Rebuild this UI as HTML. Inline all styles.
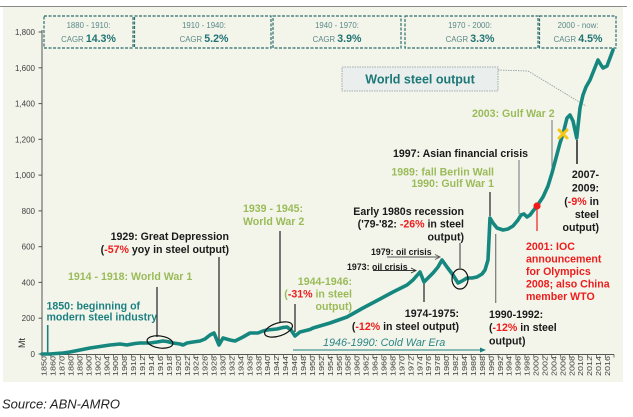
<!DOCTYPE html>
<html><head><meta charset="utf-8"><style>
html,body{margin:0;padding:0;background:#fff;}
svg{display:block;}
text{font-family:"Liberation Sans",Arial,sans-serif;}
.b{font-weight:bold;font-size:10.6px;}
.k{fill:#1a1a1a;}
.g{fill:#9bbb59;}
.r{fill:#ee1c1c;}
.t{fill:#1c8080;}
.yl{font-size:8px;fill:#404040;}
.xl{font-size:7px;fill:#404040;}
.cg{font-size:7.8px;fill:#5a8888;}
.cv{font-size:10.6px;font-weight:bold;fill:#1f7373;}
</style></head><body>
<svg width="633" height="417" viewBox="0 0 633 417" xmlns="http://www.w3.org/2000/svg">
<rect x="0" y="0" width="633" height="417" fill="#fff"/>
<rect x="3" y="7" width="620" height="375" fill="#f3f5eb"/>
<line x1="0" y1="6.5" x2="627" y2="6.5" stroke="#8a8a8a" stroke-width="1"/>

<!-- CAGR boxes -->
<g fill="none" stroke="#2d6e6e" stroke-width="1.2" stroke-dasharray="3,1.5">
<rect x="44" y="16" width="89" height="32"/>
<rect x="134.5" y="16" width="136.5" height="32"/>
<rect x="273" y="16" width="128" height="32"/>
<rect x="405" y="16" width="133" height="32"/>
<rect x="539.5" y="16" width="76.5" height="32"/>
</g>
<g text-anchor="middle">
<text class="cg" x="88.5" y="28">1880 - 1910:</text>
<text x="88.5" y="42"><tspan class="cg">CAGR </tspan><tspan class="cv">14.3%</tspan></text>
<text class="cg" x="204" y="28">1910 - 1940:</text>
<text x="204" y="42"><tspan class="cg">CAGR </tspan><tspan class="cv">5.2%</tspan></text>
<text class="cg" x="337" y="28">1940 - 1970:</text>
<text x="337" y="42"><tspan class="cg">CAGR </tspan><tspan class="cv">3.9%</tspan></text>
<text class="cg" x="470" y="28">1970 - 2000:</text>
<text x="470" y="42"><tspan class="cg">CAGR </tspan><tspan class="cv">3.3%</tspan></text>
<text class="cg" x="578" y="28">2000 - now:</text>
<text x="578" y="42"><tspan class="cg">CAGR </tspan><tspan class="cv">4.5%</tspan></text>
</g>

<!-- Axes -->
<line x1="42" y1="30" x2="42" y2="354.5" stroke="#555" stroke-width="1"/>
<line x1="42" y1="354.5" x2="614" y2="354.5" stroke="#555" stroke-width="1"/>
<g stroke="#555" stroke-width="1">
<line x1="38.5" y1="32" x2="42" y2="32"/>
<line x1="38.5" y1="67.8" x2="42" y2="67.8"/>
<line x1="38.5" y1="103.6" x2="42" y2="103.6"/>
<line x1="38.5" y1="139.3" x2="42" y2="139.3"/>
<line x1="38.5" y1="175.1" x2="42" y2="175.1"/>
<line x1="38.5" y1="210.9" x2="42" y2="210.9"/>
<line x1="38.5" y1="246.7" x2="42" y2="246.7"/>
<line x1="38.5" y1="282.4" x2="42" y2="282.4"/>
<line x1="38.5" y1="318.2" x2="42" y2="318.2"/>
<line x1="38.5" y1="354" x2="42" y2="354"/>
</g>
<g class="yl" text-anchor="end">
<text x="35" y="35">1,800</text>
<text x="35" y="70.8">1,600</text>
<text x="35" y="106.6">1,400</text>
<text x="35" y="142.3">1,200</text>
<text x="35" y="178.1">1,000</text>
<text x="35" y="213.9">800</text>
<text x="35" y="249.7">600</text>
<text x="35" y="285.4">400</text>
<text x="35" y="321.2">200</text>
<text x="35" y="357">0</text>
</g>
<text x="25" y="343" font-size="9" fill="#333" text-anchor="middle" transform="rotate(-90 25 343)">Mt</text>

<g id="xt" stroke="#555" stroke-width="0.8"></g>
<g id="xlab" class="xl"></g>

<!-- Annotation vertical lines -->
<g stroke-width="1.2">
<line x1="47.7" y1="325" x2="47.7" y2="353" stroke="#1c8080" stroke-width="1.6"/>
<line x1="157" y1="287" x2="157" y2="337" stroke="#222"/>
<line x1="219" y1="257" x2="219" y2="343" stroke="#222"/>
<line x1="280" y1="231" x2="280" y2="322" stroke="#222"/>
<line x1="295" y1="304" x2="295" y2="332" stroke="#222"/>
<line x1="424" y1="283" x2="424" y2="302" stroke="#222"/>
<line x1="460" y1="243" x2="460" y2="268" stroke="#555"/>
<line x1="490" y1="192" x2="490" y2="216" stroke="#222"/>
<line x1="495.7" y1="234" x2="495.7" y2="303" stroke="#777"/>
<line x1="519" y1="160" x2="519" y2="214" stroke="#888"/>
<line x1="537" y1="207" x2="537" y2="231" stroke="#ee1c1c"/>
<line x1="552" y1="120" x2="552" y2="167" stroke="#888"/>
<line x1="577" y1="140" x2="577" y2="164" stroke="#222" stroke-width="1.5"/>
</g>

<!-- Cold war arrow -->
<line x1="293" y1="350" x2="481" y2="350" stroke="#1c8080" stroke-width="1"/>
<polygon points="480,347.5 486,350 480,352.5" fill="#1c8080"/>

<!-- oil crisis arrows -->
<line x1="373" y1="270.5" x2="415" y2="270.5" stroke="#333" stroke-width="0.9"/>
<polyline points="411,268 416,270.5 411,273" fill="none" stroke="#333" stroke-width="0.9"/>
<line x1="387" y1="257" x2="439" y2="257" stroke="#555" stroke-width="0.9"/>
<polyline points="435,254.5 440,257 435,259.5" fill="none" stroke="#555" stroke-width="0.9"/>

<!-- World steel output callout -->
<polyline points="498,70 528,71 586,106" fill="none" stroke="#8a9a9a" stroke-width="0.8" stroke-dasharray="1.5,1"/>
<rect x="342" y="67" width="156" height="24" fill="#eaeeec" stroke="#8a9a9a" stroke-width="0.8" stroke-dasharray="1.5,1"/>
<text x="420" y="83.5" text-anchor="middle" font-size="12.5" font-weight="bold" fill="#1c7878">World steel output</text>

<!-- Main series -->
<polyline fill="none" stroke="#16877e" stroke-width="3.6" stroke-linejoin="round" stroke-linecap="round" points="
42,354 50,354 56,353.5 63,353 70,352 80,350 90,348 100,346.5 110,345 120,344 127,345 135,343.5 140,343 150,343 157,342 163,341 167,341.5 173,343 180,344 183,345 187,343 193,342 200,341 205,339 210,335 214,333 219,345 223,338 230,340 235,341 243,337 250,333 258,333 263,331 267,330 277,329 283,327.5 287,327 291,330 295,336 300,332 310,329.5 313,328 330,323 347,317 363,308 380,299 393,292 407,285 413,280 420,272 424,282 428,278 433,273 438,267 442,260 447,267 453,275 458,283 462,281 467,278 472,278 477,277 482,274 485,270 488,260 490,218 493,223 497,228 503,230 508,229 513,226 518,220 521,215 524,214 527,217 530,215 533,211 537,206 543,197 548,186 552,173 556,158 560,143 563,134 567,118 570,115 573,121 576.7,138 580,108 583,95 586,87 590,80 594,70 598,60 601,65 603,68 607,66 610,58 613,50"/>

<!-- ellipses -->
<g fill="none" stroke="#111" stroke-width="1.2">
<ellipse cx="160" cy="342" rx="13" ry="6" transform="rotate(8 160 342)"/>
<ellipse cx="278.5" cy="329.5" rx="14.5" ry="6.5" transform="rotate(-18 278.5 329.5)"/>
<ellipse cx="460" cy="279" rx="8" ry="10"/>
</g>

<!-- markers -->
<circle cx="537" cy="206" r="3.6" fill="#ee1c1c"/>
<g stroke="#f5c518" stroke-width="3" stroke-linecap="round">
<line x1="559" y1="130" x2="567" y2="138"/>
<line x1="567" y1="130" x2="559" y2="138"/>
</g>

<!-- Annotations -->
<text class="b t" x="46.5" y="309.5">1850: beginning of</text>
<text class="b t" x="46.5" y="320.5">modern steel industry</text>

<text class="b g" x="68" y="280">1914 - 1918: World War 1</text>

<text class="b k" x="229" y="240" text-anchor="end">1929: Great Depression</text>
<text class="b k" x="229" y="253" text-anchor="end">(<tspan class="r">-57%</tspan> yoy in steel output)</text>

<text class="b g" x="243" y="212">1939 - 1945:</text>
<text class="b g" x="243" y="225">World War 2</text>

<text class="b g" x="352" y="285" text-anchor="end">1944-1946:</text>
<text class="b g" x="352" y="297.5" text-anchor="end">(<tspan class="r">-31%</tspan> in steel</text>
<text class="b g" x="352" y="310" text-anchor="end">output)</text>

<text class="k" x="347" y="270" font-size="8.8" font-weight="bold">1973: oil crisis</text>
<text class="k" x="371" y="255" font-size="8.8" font-weight="bold">1979: oil crisis</text>

<text class="b k" x="464" y="215" text-anchor="end">Early 1980s recession</text>
<text class="b k" x="464" y="227.5" text-anchor="end">('79-'82: <tspan class="r">-26%</tspan> in steel</text>
<text class="b k" x="464" y="240.5" text-anchor="end">output)</text>

<text class="b g" x="494" y="175.5" text-anchor="end">1989: fall Berlin Wall</text>
<text class="b g" x="494" y="187" text-anchor="end">1990: Gulf War 1</text>

<text class="b k" x="393" y="157">1997: Asian financial crisis</text>

<text class="b g" x="472" y="117">2003: Gulf War 2</text>

<g text-anchor="end">
<text class="b k" x="599" y="178">2007-</text>
<text class="b k" x="599" y="191.5">2009:</text>
<text class="b k" x="599" y="205">(<tspan class="r">-9%</tspan> in</text>
<text class="b k" x="599" y="218">steel</text>
<text class="b k" x="599" y="231">output)</text>
</g>

<text class="b r" x="526" y="250">2001: IOC</text>
<text class="b r" x="526" y="262.5">announcement</text>
<text class="b r" x="526" y="275">for Olympics</text>
<text class="b r" x="526" y="287.5">2008; also China</text>
<text class="b r" x="526" y="300">member WTO</text>

<text class="b k" x="459" y="317" text-anchor="end">1974-1975:</text>
<text class="b k" x="459" y="330" text-anchor="end">(<tspan class="r">-12%</tspan> in steel output)</text>

<text class="b k" x="489" y="318">1990-1992:</text>
<text class="b k" x="489" y="331">(<tspan class="r">-12%</tspan> in steel</text>
<text class="b k" x="489" y="344.5">output)</text>

<text x="323" y="346" font-size="10.8" font-style="italic" fill="#2b8585">1946-1990: Cold War Era</text>

<text x="2" y="408.5" font-size="13" font-style="italic" fill="#222">Source: ABN-AMRO</text>

<!-- X labels -->
<g class="xl">
<text transform="translate(46.7,376) rotate(-90)" textLength="20" lengthAdjust="spacingAndGlyphs">1850</text>
<text transform="translate(55.6,376) rotate(-90)" textLength="20" lengthAdjust="spacingAndGlyphs">1860</text>
<text transform="translate(64.6,376) rotate(-90)" textLength="20" lengthAdjust="spacingAndGlyphs">1870</text>
<text transform="translate(73.5,376) rotate(-90)" textLength="20" lengthAdjust="spacingAndGlyphs">1880</text>
<text transform="translate(82.4,376) rotate(-90)" textLength="20" lengthAdjust="spacingAndGlyphs">1890</text>
<text transform="translate(91.4,376) rotate(-90)" textLength="20" lengthAdjust="spacingAndGlyphs">1900</text>
<text transform="translate(100.3,376) rotate(-90)" textLength="20" lengthAdjust="spacingAndGlyphs">1902</text>
<text transform="translate(109.3,376) rotate(-90)" textLength="20" lengthAdjust="spacingAndGlyphs">1904</text>
<text transform="translate(118.2,376) rotate(-90)" textLength="20" lengthAdjust="spacingAndGlyphs">1906</text>
<text transform="translate(127.2,376) rotate(-90)" textLength="20" lengthAdjust="spacingAndGlyphs">1908</text>
<text transform="translate(136.1,376) rotate(-90)" textLength="20" lengthAdjust="spacingAndGlyphs">1910</text>
<text transform="translate(145.0,376) rotate(-90)" textLength="20" lengthAdjust="spacingAndGlyphs">1912</text>
<text transform="translate(154.0,376) rotate(-90)" textLength="20" lengthAdjust="spacingAndGlyphs">1914</text>
<text transform="translate(162.9,376) rotate(-90)" textLength="20" lengthAdjust="spacingAndGlyphs">1916</text>
<text transform="translate(171.9,376) rotate(-90)" textLength="20" lengthAdjust="spacingAndGlyphs">1918</text>
<text transform="translate(180.8,376) rotate(-90)" textLength="20" lengthAdjust="spacingAndGlyphs">1920</text>
<text transform="translate(189.8,376) rotate(-90)" textLength="20" lengthAdjust="spacingAndGlyphs">1922</text>
<text transform="translate(198.7,376) rotate(-90)" textLength="20" lengthAdjust="spacingAndGlyphs">1924</text>
<text transform="translate(207.6,376) rotate(-90)" textLength="20" lengthAdjust="spacingAndGlyphs">1926</text>
<text transform="translate(216.6,376) rotate(-90)" textLength="20" lengthAdjust="spacingAndGlyphs">1928</text>
<text transform="translate(225.5,376) rotate(-90)" textLength="20" lengthAdjust="spacingAndGlyphs">1930</text>
<text transform="translate(234.5,376) rotate(-90)" textLength="20" lengthAdjust="spacingAndGlyphs">1932</text>
<text transform="translate(243.4,376) rotate(-90)" textLength="20" lengthAdjust="spacingAndGlyphs">1934</text>
<text transform="translate(252.4,376) rotate(-90)" textLength="20" lengthAdjust="spacingAndGlyphs">1936</text>
<text transform="translate(261.3,376) rotate(-90)" textLength="20" lengthAdjust="spacingAndGlyphs">1938</text>
<text transform="translate(270.2,376) rotate(-90)" textLength="20" lengthAdjust="spacingAndGlyphs">1940</text>
<text transform="translate(279.2,376) rotate(-90)" textLength="20" lengthAdjust="spacingAndGlyphs">1942</text>
<text transform="translate(288.1,376) rotate(-90)" textLength="20" lengthAdjust="spacingAndGlyphs">1944</text>
<text transform="translate(297.1,376) rotate(-90)" textLength="20" lengthAdjust="spacingAndGlyphs">1946</text>
<text transform="translate(306.0,376) rotate(-90)" textLength="20" lengthAdjust="spacingAndGlyphs">1948</text>
<text transform="translate(315.0,376) rotate(-90)" textLength="20" lengthAdjust="spacingAndGlyphs">1950</text>
<text transform="translate(323.9,376) rotate(-90)" textLength="20" lengthAdjust="spacingAndGlyphs">1952</text>
<text transform="translate(332.8,376) rotate(-90)" textLength="20" lengthAdjust="spacingAndGlyphs">1954</text>
<text transform="translate(341.8,376) rotate(-90)" textLength="20" lengthAdjust="spacingAndGlyphs">1956</text>
<text transform="translate(350.7,376) rotate(-90)" textLength="20" lengthAdjust="spacingAndGlyphs">1958</text>
<text transform="translate(359.7,376) rotate(-90)" textLength="20" lengthAdjust="spacingAndGlyphs">1960</text>
<text transform="translate(368.6,376) rotate(-90)" textLength="20" lengthAdjust="spacingAndGlyphs">1962</text>
<text transform="translate(377.6,376) rotate(-90)" textLength="20" lengthAdjust="spacingAndGlyphs">1964</text>
<text transform="translate(386.5,376) rotate(-90)" textLength="20" lengthAdjust="spacingAndGlyphs">1966</text>
<text transform="translate(395.4,376) rotate(-90)" textLength="20" lengthAdjust="spacingAndGlyphs">1968</text>
<text transform="translate(404.4,376) rotate(-90)" textLength="20" lengthAdjust="spacingAndGlyphs">1970</text>
<text transform="translate(413.3,376) rotate(-90)" textLength="20" lengthAdjust="spacingAndGlyphs">1972</text>
<text transform="translate(422.3,376) rotate(-90)" textLength="20" lengthAdjust="spacingAndGlyphs">1974</text>
<text transform="translate(431.2,376) rotate(-90)" textLength="20" lengthAdjust="spacingAndGlyphs">1976</text>
<text transform="translate(440.2,376) rotate(-90)" textLength="20" lengthAdjust="spacingAndGlyphs">1978</text>
<text transform="translate(449.1,376) rotate(-90)" textLength="20" lengthAdjust="spacingAndGlyphs">1980</text>
<text transform="translate(458.0,376) rotate(-90)" textLength="20" lengthAdjust="spacingAndGlyphs">1982</text>
<text transform="translate(467.0,376) rotate(-90)" textLength="20" lengthAdjust="spacingAndGlyphs">1984</text>
<text transform="translate(475.9,376) rotate(-90)" textLength="20" lengthAdjust="spacingAndGlyphs">1986</text>
<text transform="translate(484.9,376) rotate(-90)" textLength="20" lengthAdjust="spacingAndGlyphs">1988</text>
<text transform="translate(493.8,376) rotate(-90)" textLength="20" lengthAdjust="spacingAndGlyphs">1990</text>
<text transform="translate(502.8,376) rotate(-90)" textLength="20" lengthAdjust="spacingAndGlyphs">1992</text>
<text transform="translate(511.7,376) rotate(-90)" textLength="20" lengthAdjust="spacingAndGlyphs">1994</text>
<text transform="translate(520.6,376) rotate(-90)" textLength="20" lengthAdjust="spacingAndGlyphs">1996</text>
<text transform="translate(529.6,376) rotate(-90)" textLength="20" lengthAdjust="spacingAndGlyphs">1998</text>
<text transform="translate(538.5,376) rotate(-90)" textLength="20" lengthAdjust="spacingAndGlyphs">2000</text>
<text transform="translate(547.5,376) rotate(-90)" textLength="20" lengthAdjust="spacingAndGlyphs">2002</text>
<text transform="translate(556.4,376) rotate(-90)" textLength="20" lengthAdjust="spacingAndGlyphs">2004</text>
<text transform="translate(565.4,376) rotate(-90)" textLength="20" lengthAdjust="spacingAndGlyphs">2006</text>
<text transform="translate(574.3,376) rotate(-90)" textLength="20" lengthAdjust="spacingAndGlyphs">2008</text>
<text transform="translate(583.2,376) rotate(-90)" textLength="20" lengthAdjust="spacingAndGlyphs">2010</text>
<text transform="translate(592.2,376) rotate(-90)" textLength="20" lengthAdjust="spacingAndGlyphs">2012</text>
<text transform="translate(601.1,376) rotate(-90)" textLength="20" lengthAdjust="spacingAndGlyphs">2014</text>
<text transform="translate(610.1,376) rotate(-90)" textLength="20" lengthAdjust="spacingAndGlyphs">2016</text>
</g>
<!-- X ticks -->
<path stroke="#555" stroke-width="0.8" fill="none" d="M42,354.5v3 M50.9,354.5v3 M59.9,354.5v3 M68.8,354.5v3 M77.8,354.5v3 M86.7,354.5v3 M95.6,354.5v3 M104.6,354.5v3 M113.5,354.5v3 M122.5,354.5v3 M131.4,354.5v3 M140.4,354.5v3 M149.3,354.5v3 M158.2,354.5v3 M167.2,354.5v3 M176.1,354.5v3 M185.1,354.5v3 M194,354.5v3 M203,354.5v3 M211.9,354.5v3 M220.8,354.5v3 M229.8,354.5v3 M238.7,354.5v3 M247.7,354.5v3 M256.6,354.5v3 M265.6,354.5v3 M274.5,354.5v3 M283.4,354.5v3 M292.4,354.5v3 M301.3,354.5v3 M310.3,354.5v3 M319.2,354.5v3 M328.2,354.5v3 M337.1,354.5v3 M346,354.5v3 M355,354.5v3 M363.9,354.5v3 M372.9,354.5v3 M381.8,354.5v3 M390.8,354.5v3 M399.7,354.5v3 M408.6,354.5v3 M417.6,354.5v3 M426.5,354.5v3 M435.5,354.5v3 M444.4,354.5v3 M453.4,354.5v3 M462.3,354.5v3 M471.2,354.5v3 M480.2,354.5v3 M489.1,354.5v3 M498.1,354.5v3 M507,354.5v3 M516,354.5v3 M524.9,354.5v3 M533.8,354.5v3 M542.8,354.5v3 M551.7,354.5v3 M560.7,354.5v3 M569.6,354.5v3 M578.6,354.5v3 M587.5,354.5v3 M596.4,354.5v3 M605.4,354.5v3 M614,354.5v3"/>
</svg>
</body></html>
